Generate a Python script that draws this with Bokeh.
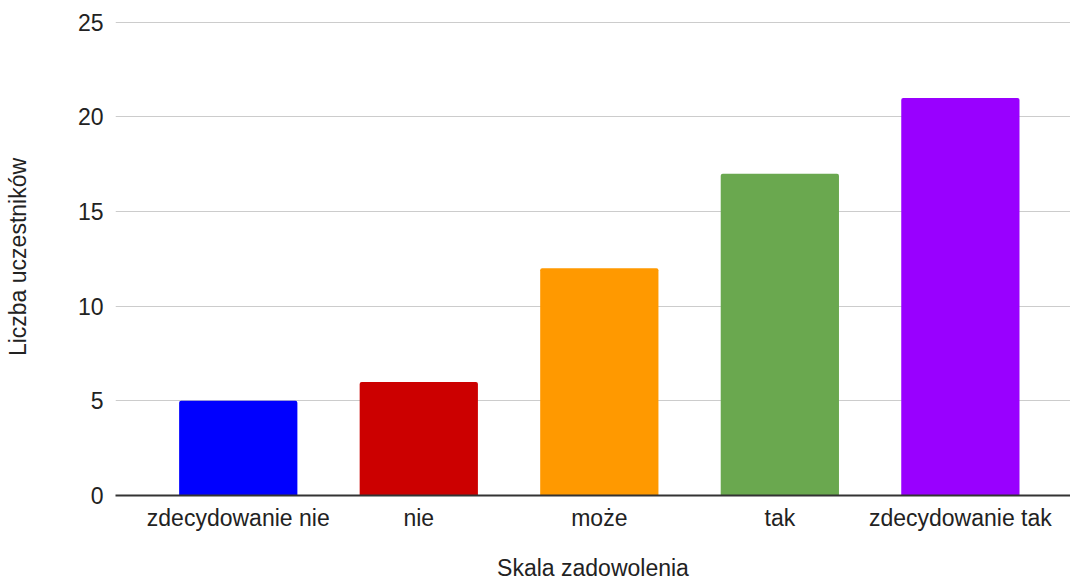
from bokeh.plotting import figure
from bokeh.models import ColumnDataSource, Range1d, FixedTicker
from bokeh.embed import file_html
from bokeh.resources import INLINE

# Satisfaction scale and number of participants per answer
categories = ["zdecydowanie nie", "nie", "może", "tak", "zdecydowanie tak"]
counts = [5, 6, 12, 17, 21]
bar_colors = ["#0000ff", "#cc0000", "#ff9900", "#6aa84f", "#9900ff"]
y_ticks = [0, 5, 10, 15, 20, 25]

x_title = "Skala zadowolenia"
y_title = "Liczba uczestników"

positions = list(range(len(categories)))
source = ColumnDataSource(dict(x=positions, top=counts, color=bar_colors, label=categories))

FONT = "Liberation Sans"
TEXT = "#222222"
SIZE = "23px"

p = figure(
    width=1070, height=583,
    x_range=Range1d(-0.68, 4.61),
    y_range=Range1d(0, 25.2),
    output_backend="svg",
    toolbar_location=None,
    min_border_left=115, min_border_right=0,
    min_border_top=18, min_border_bottom=88,
)
p.outline_line_color = None
p.background_fill_color = "white"
p.border_fill_color = "white"

p.vbar(x="x", top="top", bottom=0, width=0.655, color="color",
       line_color=None, border_radius=(2, 2, 0, 0), source=source)

# x axis: category names under each bar
xa = p.xaxis[0]
xa.ticker = FixedTicker(ticks=positions)
xa.major_label_overrides = {i: c for i, c in zip(positions, categories)}
xa.axis_line_color = "#333333"
xa.axis_line_width = 2
xa.major_tick_line_color = None
xa.minor_tick_line_color = None
xa.major_tick_out = 0
xa.major_label_standoff = 9
xa.major_label_text_font = FONT
xa.major_label_text_font_size = SIZE
xa.major_label_text_color = TEXT
xa.axis_label = x_title
xa.axis_label_standoff = 21
xa.axis_label_text_font = FONT
xa.axis_label_text_font_size = SIZE
xa.axis_label_text_font_style = "normal"
xa.axis_label_text_color = TEXT

# y axis: counts, no line or ticks
ya = p.yaxis[0]
ya.ticker = FixedTicker(ticks=y_ticks)
ya.axis_line_color = None
ya.major_tick_line_color = None
ya.minor_tick_line_color = None
ya.major_tick_out = 0
ya.major_label_standoff = 12
ya.major_label_text_font = FONT
ya.major_label_text_font_size = SIZE
ya.major_label_text_color = TEXT
ya.axis_label = y_title
ya.axis_label_standoff = 44
ya.axis_label_text_font = FONT
ya.axis_label_text_font_size = SIZE
ya.axis_label_text_font_style = "normal"
ya.axis_label_text_color = TEXT

p.xgrid.grid_line_color = None
p.ygrid.ticker = FixedTicker(ticks=y_ticks)
p.ygrid.grid_line_color = "#cccccc"
p.ygrid.grid_line_width = 1.2

open("out.html", "w").write(file_html(p, INLINE))
